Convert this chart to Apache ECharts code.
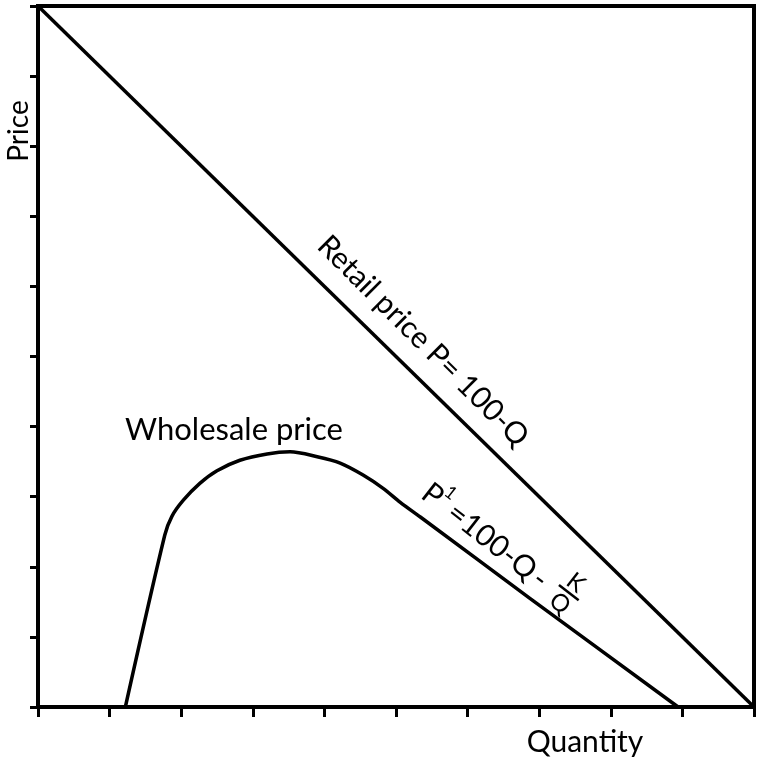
<!DOCTYPE html>
<html>
<head>
<meta charset="utf-8">
<script src="https://cdn.jsdelivr.net/npm/echarts@6/dist/echarts.min.js"></script>
<style>
html,body{margin:0;padding:0;background:#fff;}
#chart{width:759px;height:766px;}
</style>
</head>
<body>
<div id="chart"></div>
<script>
// Data
const xTicks = [0, 10, 20, 30, 40, 50, 60, 70, 80, 90, 100];
const yTicks = [0, 10, 20, 30, 40, 50, 60, 70, 80, 90, 100];
const retailQ = [0, 100];
const retailP = [100, 0];
const wholesaleQ = [12.2, 17.7, 18.7, 20.3, 22.6, 25.0, 28.2, 32.0, 35.2, 39.0, 42.2, 45.4, 48.2, 50.6, 53.4, 68.7, 89.4];
const wholesaleP = [0, 24.5, 27.2, 29.5, 31.9, 33.7, 35.2, 36.1, 36.4, 35.7, 34.8, 33.1, 31.2, 29.2, 27.1, 15.5, 0];
const xTitle = 'Quantity';
const yTitle = 'Price';
const retailLabel = 'Retail price P= 100-Q';
const wholesaleLabel = 'Wholesale price';

const FONT = 'Lato, "DejaVu Sans", sans-serif';
const chart = echarts.init(document.getElementById('chart'), null, {renderer: 'canvas'});

function pairs(xs, ys) { return xs.map((x, i) => [x, ys[i]]); }

function txt(text, x, y, size, opts) {
  opts = opts || {};
  return {
    type: 'text', x: x, y: y, rotation: opts.rotation || 0,
    style: {
      text: text, fill: '#000',
      font: (opts.weight || 'normal') + ' ' + size + 'px ' + FONT,
      align: opts.align || 'center', verticalAlign: opts.va || 'middle',
      textAlign: opts.align || 'center', textVerticalAlign: opts.va || 'middle'
    }
  };
}

const deg = Math.PI / 180;

const option = {
  animation: false,
  backgroundColor: '#fff',
  grid: {left: 38, right: 5, top: 6, bottom: 59, show: true, borderColor: '#000', borderWidth: 4, backgroundColor: 'transparent'},
  xAxis: {
    type: 'value', min: xTicks[0], max: xTicks[xTicks.length - 1], interval: xTicks[1] - xTicks[0],
    axisLine: {show: true, lineStyle: {color: '#000', width: 3.5}},
    axisTick: {show: true, length: 10, inside: false, lineStyle: {color: '#000', width: 3}},
    axisLabel: {show: false}, splitLine: {show: false}
  },
  yAxis: {
    type: 'value', min: yTicks[0], max: yTicks[yTicks.length - 1], interval: yTicks[1] - yTicks[0],
    axisLine: {show: true, lineStyle: {color: '#000', width: 3.5}},
    axisTick: {show: true, length: 8, inside: false, lineStyle: {color: '#000', width: 3}},
    axisLabel: {show: false}, splitLine: {show: false}
  },
  series: [
    {
      name: 'Retail price', type: 'line', data: pairs(retailQ, retailP),
      showSymbol: false, symbol: 'none',
      lineStyle: {color: '#000', width: 3.5}
    },
    {
      name: 'Wholesale price', type: 'line', data: pairs(wholesaleQ, wholesaleP),
      showSymbol: false, symbol: 'none', smooth: 0.3,
      lineStyle: {color: '#000', width: 3.5, join: 'round'}
    }
  ],
  graphic: [
    txt(yTitle, 19, 131, 28, {rotation: Math.PI / 2}),
    txt(xTitle, 585, 742, 30),
    txt(wholesaleLabel, 125, 430, 31, {align: 'left'}),
    txt(retailLabel, 423, 341, 30, {rotation: -45 * deg}),
    {
      type: 'group', x: 421, y: 500, rotation: -38 * deg,
      children: [
        txt('P', -3, -11, 30, {align: 'left'}),
        txt('1', 19, -24, 18),
        txt('=100-Q', 29, -11, 30, {align: 'left'}),
        txt('-', 143, -11, 30),
        txt('K', 173, -30, 24),
        {type: 'line', shape: {x1: 161, y1: -18, x2: 186, y2: -18}, style: {stroke: '#000', lineWidth: 2.5}},
        txt('Q', 173, -4, 24)
      ]
    }
  ]
};
chart.setOption(option);
</script>
</body>
</html>
